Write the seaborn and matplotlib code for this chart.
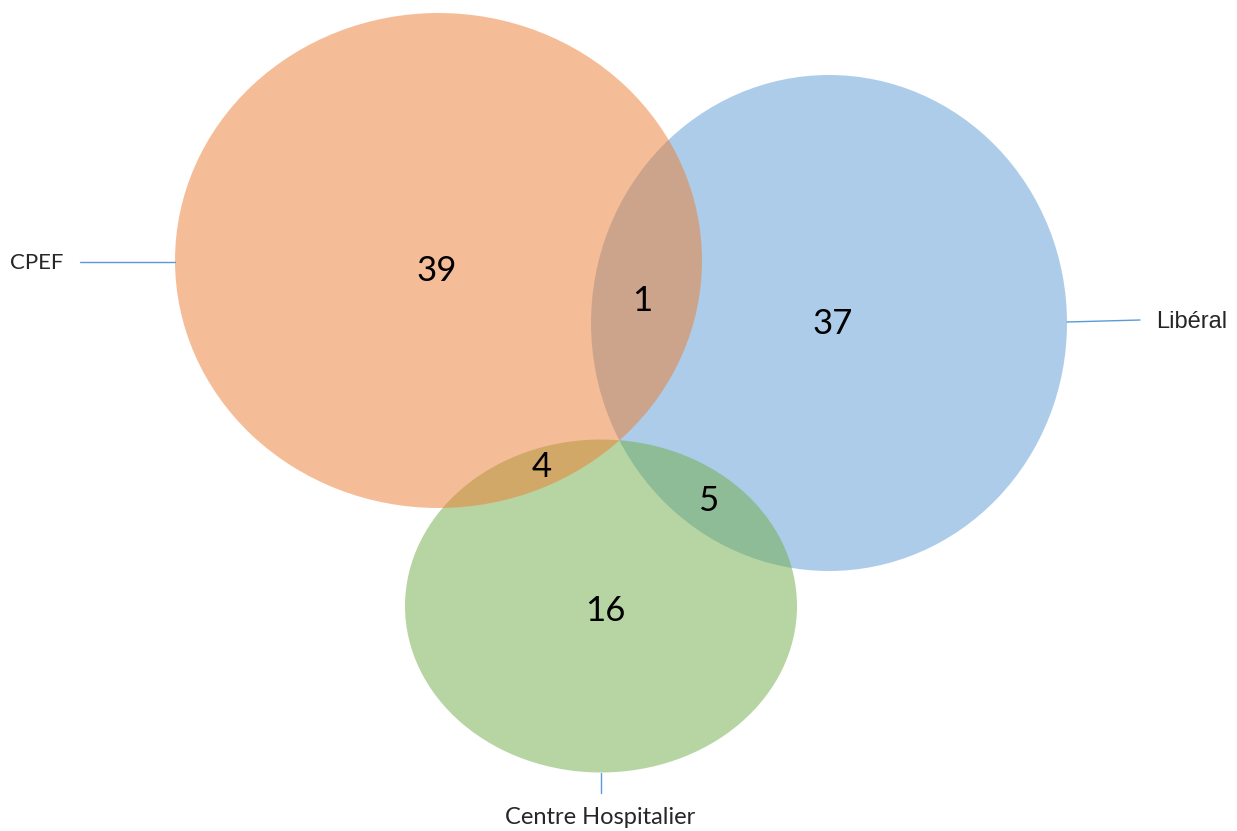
import matplotlib
matplotlib.use("Agg")
import matplotlib.pyplot as plt
from matplotlib.patches import Ellipse
import seaborn as sns

# set names and counts of the Venn regions
sets = ["CPEF", "Libéral", "Centre Hospitalier"]
region_labels = ["CPEF", "CPEF & Libéral", "Libéral", "CPEF & CH", "Libéral & CH", "CH"]
region_counts = [39, 1, 37, 4, 5, 16]

sns.set_style("white")
plt.rcParams['font.family'] = ['Lato', 'DejaVu Sans']

# office palette, half transparent
palette = sns.color_palette(["#ED7D31", "#5B9BD5", "#70AD47"])

fig = plt.figure(figsize=(12.37, 8.31), dpi=100)
ax = fig.add_axes([0, 0, 1, 1])
ax.set_xlim(0, 1237)
ax.set_ylim(831, 0)
ax.set_axis_off()

# ellipse geometry (centre x, centre y, width, height), drawn blue, green, orange
shapes = {
    "Libéral": (829, 323, 476, 496),
    "Centre Hospitalier": (601, 606, 392, 333),
    "CPEF": (438.5, 260.5, 527, 495),
}
colors = dict(zip(sets, palette))
for name, (cx, cy, w, h) in shapes.items():
    ax.add_patch(Ellipse((cx, cy), w, h, facecolor=colors[name], alpha=0.5,
                         edgecolor="none"))

# numbers inside regions
text_pos = [(437, 271), (642, 301), (833, 324), (542, 467), (708, 501), (605, 611)]
for (x, y), n in zip(text_pos, region_counts):
    ax.text(x, y, str(n), fontsize=25, ha="center", va="center", color="black")

# leader lines and set labels
line_col = "#5B9BD5"
ax.plot([80, 175], [262, 262], color=line_col, lw=1)
ax.text(10, 263, sets[0], fontsize=16, ha="left", va="center")
ax.plot([1067, 1140], [322, 320], color=line_col, lw=1)
ax.text(1156, 322, sets[1], fontsize=17, ha="left", va="center",
        family=['Liberation Sans', 'DejaVu Sans'])
ax.plot([601, 601], [773, 793], color=line_col, lw=1)
ax.text(600, 818, sets[2], fontsize=17, ha="center", va="center")

fig.savefig("out.png", dpi=100)
